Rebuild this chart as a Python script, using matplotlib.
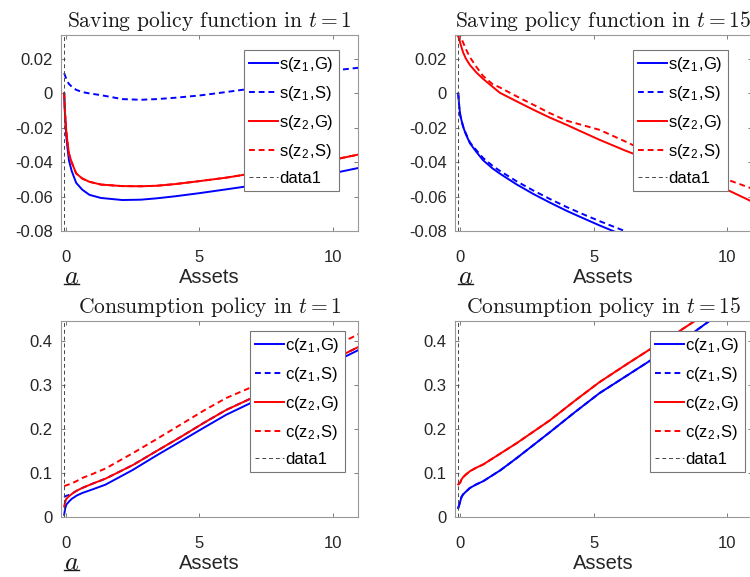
import matplotlib
matplotlib.use('Agg')
import matplotlib.pyplot as plt
import matplotlib.transforms as mtransforms
from matplotlib.ticker import FuncFormatter

plt.rcParams['font.family'] = 'Liberation Sans'
plt.rcParams['mathtext.fontset'] = 'cm'
plt.rcParams['axes.unicode_minus'] = False

a_min = -0.08

# saving policy, t = 1
x_s1 = [-0.08, -0.05, 0.0, 0.04, 0.1, 0.2, 0.37, 0.6, 0.87, 1.3, 2.1, 2.8, 3.4, 4.1,
        5.0, 6.0, 6.8, 8.0, 9.0, 10.3, 11.2]
s_z1G_1 = [0.0, -0.012, -0.025, -0.031, -0.039, -0.045, -0.052, -0.056, -0.059, -0.0608,
           -0.062, -0.0618, -0.061, -0.0598, -0.058, -0.0558, -0.054, -0.051, -0.0485,
           -0.0455, -0.0426]
s_z1S_1 = [0.0118, 0.0105, 0.0085, 0.007, 0.0055, 0.004, 0.0021, 0.0008, 0.0, -0.001,
           -0.0033, -0.0037, -0.0033, -0.0025, -0.0012, 0.0008, 0.0025, 0.0065, 0.0095,
           0.0138, 0.0153]
s_z2G_1 = [0.0, -0.011, -0.022, -0.028, -0.035, -0.04, -0.0465, -0.0495, -0.0514, -0.053,
           -0.0539, -0.054, -0.0537, -0.0527, -0.051, -0.049, -0.047, -0.044, -0.0415,
           -0.0377, -0.0348]
s_z2S_1 = s_z2G_1

# saving policy, t = 15
x_s15 = [-0.08, -0.04, 0.0, 0.1, 0.2, 0.36, 0.6, 0.85, 1.2, 1.48, 2.1, 2.73, 3.35, 3.98,
         4.6, 5.23, 6.2, 6.47, 7.5, 8.5, 9.3, 10.05, 10.8, 11.2]
s_z1G_15 = [0.0, -0.008, -0.013, -0.0192, -0.0235, -0.029, -0.034, -0.0388, -0.0435,
            -0.0466, -0.0528, -0.0584, -0.0634, -0.0682, -0.0725, -0.0768, -0.083, -0.085,
            -0.092, -0.098, -0.103, -0.108, -0.112, -0.115]
s_z1S_15 = [0.0, -0.008, -0.013, -0.019, -0.023, -0.0285, -0.033, -0.0375, -0.042, -0.045,
            -0.051, -0.0564, -0.0613, -0.066, -0.0702, -0.0743, -0.0802, -0.082, -0.089,
            -0.095, -0.1, -0.105, -0.109, -0.112]
s_z2G_15 = [0.033, 0.0318, 0.029, 0.024, 0.0205, 0.0165, 0.0122, 0.0085, 0.004, 0.0004,
            -0.0045, -0.0094, -0.014, -0.0182, -0.0226, -0.027, -0.0333, -0.0349, -0.041,
            -0.0465, -0.0515, -0.0563, -0.0618, -0.065]
s_z2S_15 = [0.036, 0.0345, 0.033, 0.0298, 0.026, 0.021, 0.0155, 0.0102, 0.0055, 0.0035,
            -0.0016, -0.0065, -0.0114, -0.0158, -0.0185, -0.0212, -0.028, -0.03, -0.036,
            -0.041, -0.0455, -0.0503, -0.0545, -0.057]

# consumption policy, t = 1
x_c1 = [-0.08, -0.04, 0.0, 0.1, 0.2, 0.4, 0.6, 1.0, 1.47, 2.5, 3.34, 4.3, 5.2, 6.0, 7.0,
        8.0, 9.0, 10.0, 10.9, 11.2]
c_z1G_1 = [0.005, 0.02, 0.028, 0.035, 0.041, 0.049, 0.0545, 0.063, 0.0734, 0.107, 0.138,
           0.172, 0.204, 0.232, 0.261, 0.291, 0.32, 0.35, 0.377, 0.386]
c_z1S_1 = [0.045, 0.047, 0.048, 0.05, 0.053, 0.06, 0.066, 0.076, 0.087, 0.118, 0.148,
           0.182, 0.215, 0.243, 0.271, 0.3, 0.329, 0.357, 0.384, 0.393]
c_z2G_1 = [0.024, 0.035, 0.041, 0.047, 0.052, 0.06, 0.066, 0.076, 0.087, 0.118, 0.148,
           0.182, 0.215, 0.243, 0.271, 0.3, 0.329, 0.357, 0.384, 0.393]
c_z2S_1 = [0.07, 0.071, 0.072, 0.074, 0.076, 0.082, 0.0886, 0.098, 0.11, 0.145, 0.175,
           0.21, 0.243, 0.27, 0.296, 0.326, 0.356, 0.386, 0.413, 0.422]

# consumption policy, t = 15
x_c15 = [-0.08, -0.04, 0.0, 0.04, 0.1, 0.2, 0.36, 0.6, 0.85, 1.5, 2.1, 3.35, 4.3, 5.22,
         6.2, 7.1, 8.0, 8.8, 9.35, 10.0, 11.2]
c_z1G_15 = [0.02, 0.028, 0.036, 0.045, 0.051, 0.057, 0.066, 0.074, 0.081, 0.106, 0.133,
            0.192, 0.238, 0.281, 0.319, 0.354, 0.39, 0.421, 0.445, 0.47, 0.515]
c_z1S_15 = c_z1G_15
c_z2G_15 = [0.074, 0.076, 0.079, 0.085, 0.09, 0.096, 0.104, 0.112, 0.119, 0.144, 0.167,
            0.219, 0.264, 0.306, 0.345, 0.38, 0.413, 0.445, 0.466, 0.49, 0.535]
c_z2S_15 = c_z2G_15

s_labels = ['s(z$_{\\mathdefault{1}}$,G)', 's(z$_{\\mathdefault{1}}$,S)',
            's(z$_{\\mathdefault{2}}$,G)', 's(z$_{\\mathdefault{2}}$,S)']
c_labels = ['c(z$_{\\mathdefault{1}}$,G)', 'c(z$_{\\mathdefault{1}}$,S)',
            'c(z$_{\\mathdefault{2}}$,G)', 'c(z$_{\\mathdefault{2}}$,S)']
s_ticks = [-0.08, -0.06, -0.04, -0.02, 0, 0.02]
c_ticks = [0, 0.1, 0.2, 0.3, 0.4]
x_ticks = [0, 5, 10]

fig = plt.figure(figsize=(7.5, 5.77), dpi=100)


def panel(rect, x, curves, labels, ylim, yticks, title, anchor, show_a):
    ax = fig.add_axes(rect)
    styles = [('b', '-'), ('b', '--'), ('r', '-'), ('r', '--')]
    for (col, ls), yv, lab in zip(styles, curves, labels):
        if ls == '--':
            ax.plot(x, yv, color=col, lw=1.4, dashes=(3.0, 2.0), label=lab)
        else:
            ax.plot(x, yv, color=col, lw=1.4, label=lab)
    ax.axvline(a_min, color='#444444', lw=0.7, dashes=(4, 3), label='data1')
    ax.set_xlim(-0.2, 10.95)
    ax.set_ylim(*ylim)
    ax.set_xticks(x_ticks)
    ax.set_yticks(yticks)
    ax.yaxis.set_major_formatter(FuncFormatter(lambda v, p: '%g' % v))
    ax.tick_params(direction='in', top=True, right=True, labelsize=12, length=3,
                   color='#666666', labelcolor='#262626', width=0.6)
    ax.tick_params(axis='x', pad=14)
    ax.tick_params(axis='y', pad=6)
    for sp in ax.spines.values():
        sp.set_color('#999999')
        sp.set_linewidth(0.8)
    ax.set_title(title, fontfamily='cmr10', fontsize=15.5, pad=6, color='#1a1a1a')
    ax.set_xlabel('Assets', fontsize=14.5, color='#262626')
    ax.xaxis.set_label_coords(0.5, -0.19)
    leg = ax.legend(loc='upper right', bbox_to_anchor=anchor, borderaxespad=0,
                    fontsize=12, fancybox=False, edgecolor='#777777', framealpha=1,
                    handlelength=1.7, handletextpad=0.1, labelspacing=0.6,
                    borderpad=0.3)
    leg.get_frame().set_linewidth(0.8)
    if show_a:
        tr = mtransforms.blended_transform_factory(ax.transData, ax.transAxes)
        ax.text(0.2, -0.235, '$a$', transform=tr, fontsize=19, ha='center',
                va='center', color='#1a1a1a')
        ax.plot([-0.1, 0.48], [-0.27, -0.27], transform=tr, color='#1a1a1a',
                lw=1.0, clip_on=False)
    return ax


panel([0.0813, 0.5997, 0.396, 0.3397], x_s1, [s_z1G_1, s_z1S_1, s_z2G_1, s_z2S_1],
      s_labels, (-0.08, 0.034), s_ticks, 'Saving policy function in $t=1$',
      (0.936, 0.923), True)
panel([0.6067, 0.5997, 0.396, 0.3397], x_s15, [s_z1G_15, s_z1S_15, s_z2G_15, s_z2S_15],
      s_labels, (-0.08, 0.034), s_ticks, 'Saving policy function in $t=15$',
      (0.919, 0.923), True)
panel([0.0813, 0.104, 0.396, 0.3397], x_c1, [c_z1G_1, c_z1S_1, c_z2G_1, c_z2S_1],
      c_labels, (0, 0.445), c_ticks, 'Consumption policy in $t=1$',
      (0.956, 0.949), True)
panel([0.6067, 0.104, 0.396, 0.3397], x_c15, [c_z1G_15, c_z1S_15, c_z2G_15, c_z2S_15],
      c_labels, (0, 0.445), c_ticks, 'Consumption policy in $t=15$',
      (0.976, 0.949), False)

fig.savefig('out.png', dpi=100)
